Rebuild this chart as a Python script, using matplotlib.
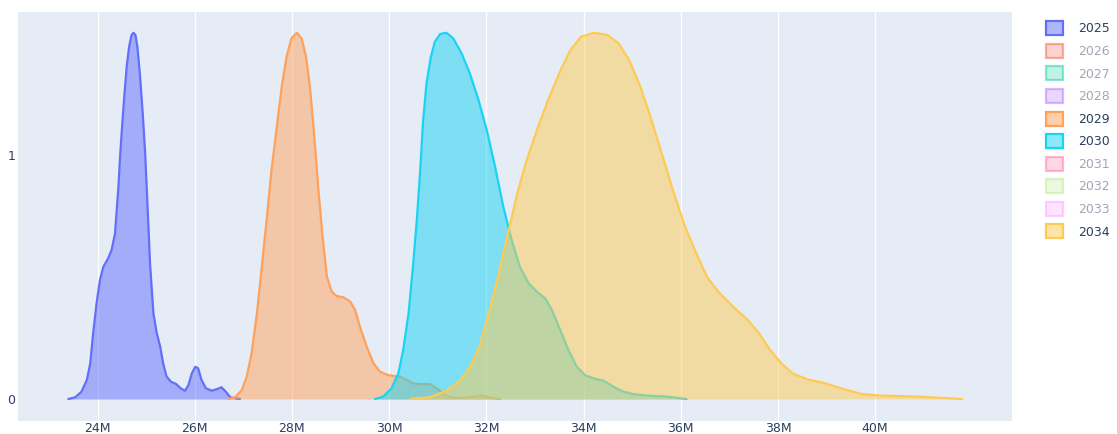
import matplotlib.pyplot as plt
from matplotlib.patches import Patch
from matplotlib.colors import to_rgb

# densidade (altura do violino) por valor em milhões
x_2025 = [23.40, 23.54, 23.67, 23.78, 23.85, 23.91, 23.98, 24.05, 24.12, 24.22, 24.29, 24.36, 24.39,
          24.43, 24.46, 24.50, 24.55, 24.60, 24.65, 24.70, 24.74, 24.78, 24.82, 24.87, 24.93, 24.98,
          25.03, 25.08, 25.15, 25.22, 25.29, 25.35, 25.42, 25.51, 25.62, 25.71, 25.80, 25.87, 25.94,
          26.01, 26.07, 26.14, 26.23, 26.35, 26.45, 26.55, 26.64, 26.73, 26.93]
y_2025 = [0.0, 0.007, 0.030, 0.078, 0.146, 0.269, 0.392, 0.488, 0.542, 0.577, 0.611, 0.679, 0.761,
          0.870, 0.980, 1.102, 1.239, 1.362, 1.444, 1.492, 1.501, 1.492, 1.444, 1.335, 1.171, 1.007,
          0.788, 0.556, 0.351, 0.269, 0.214, 0.146, 0.092, 0.071, 0.061, 0.044, 0.034, 0.057, 0.105,
          0.132, 0.126, 0.078, 0.044, 0.034, 0.040, 0.048, 0.030, 0.007, 0.0]

x_2029 = [26.69, 26.83, 26.97, 27.07, 27.17, 27.28, 27.38, 27.48, 27.58, 27.69, 27.79, 27.89, 27.99,
          28.10, 28.20, 28.29, 28.37, 28.45, 28.54, 28.63, 28.72, 28.82, 28.92, 29.06, 29.20, 29.30,
          29.40, 29.54, 29.68, 29.81, 29.98, 30.16, 30.22, 30.36, 30.50, 30.67, 30.84, 30.98, 31.15,
          31.32, 31.60, 31.80, 31.91, 32.04, 32.28]
y_2029 = [0.0, 0.007, 0.037, 0.092, 0.187, 0.351, 0.542, 0.734, 0.939, 1.116, 1.280, 1.403, 1.478,
          1.501, 1.478, 1.403, 1.280, 1.102, 0.870, 0.665, 0.501, 0.440, 0.422, 0.417, 0.399, 0.365,
          0.296, 0.214, 0.146, 0.112, 0.098, 0.092, 0.092, 0.078, 0.064, 0.061, 0.061, 0.044, 0.016,
          0.005, 0.005, 0.012, 0.015, 0.007, 0.0]

x_2030 = [29.71, 29.88, 30.05, 30.19, 30.29, 30.40, 30.49, 30.57, 30.64, 30.70, 30.77, 30.86, 30.94,
          31.05, 31.18, 31.32, 31.49, 31.66, 31.84, 32.01, 32.18, 32.35, 32.52, 32.69, 32.87, 33.04,
          33.21, 33.35, 33.52, 33.69, 33.86, 34.03, 34.20, 34.41, 34.61, 34.82, 35.03, 35.30, 35.71,
          36.12]
y_2030 = [0.0, 0.010, 0.044, 0.105, 0.201, 0.351, 0.542, 0.734, 0.939, 1.143, 1.294, 1.403, 1.464,
          1.496, 1.501, 1.478, 1.417, 1.335, 1.225, 1.102, 0.952, 0.788, 0.652, 0.542, 0.474, 0.440,
          0.413, 0.365, 0.283, 0.201, 0.132, 0.098, 0.085, 0.075, 0.051, 0.030, 0.020, 0.014, 0.010,
          0.0]

x_2034 = [30.45, 30.83, 31.14, 31.44, 31.67, 31.86, 32.05, 32.24, 32.43, 32.62, 32.81, 33.04, 33.27,
          33.50, 33.73, 33.95, 34.22, 34.49, 34.72, 34.94, 35.17, 35.40, 35.63, 35.86, 36.09, 36.32,
          36.54, 36.77, 37.08, 37.38, 37.61, 37.84, 38.07, 38.30, 38.60, 38.98, 39.36, 39.74, 40.12,
          40.88, 41.79]
y_2034 = [0.0, 0.007, 0.030, 0.071, 0.132, 0.214, 0.351, 0.501, 0.665, 0.829, 0.966, 1.102, 1.225,
          1.335, 1.430, 1.485, 1.501, 1.492, 1.458, 1.389, 1.280, 1.143, 0.993, 0.843, 0.706, 0.597,
          0.501, 0.440, 0.378, 0.324, 0.269, 0.201, 0.146, 0.105, 0.081, 0.064, 0.040, 0.020, 0.014,
          0.010, 0.0]

anos = ['2025', '2026', '2027', '2028', '2029', '2030', '2031', '2032', '2033', '2034']
cores = ['#636efa', '#EF553B', '#00cc96', '#ab63fa', '#FFA15A',
         '#19d3f3', '#FF6692', '#B6E880', '#FF97FF', '#FECB52']
visiveis = {'2025': (x_2025, y_2025), '2029': (x_2029, y_2029),
            '2030': (x_2030, y_2030), '2034': (x_2034, y_2034)}

ticks = [24, 26, 28, 30, 32, 34, 36, 38, 40]

fig = plt.figure(figsize=(11.17, 4.34), dpi=100)
ax = fig.add_axes([0.0164, 0.0306, 0.8893, 0.9411])
ax.set_facecolor('#E5ECF6')

z = 2
for ano, cor in zip(anos, cores):
    if ano in visiveis:
        xs, ys = visiveis[ano]
        ax.fill_between(xs, 0, ys, color=cor, alpha=0.5, linewidth=0, zorder=z)
        ax.plot(xs, ys, color=cor, linewidth=1.6, solid_joinstyle='round',
                solid_capstyle='round', zorder=z + 1)
        z += 2

ax.set_xlim(22.37, 42.81)
ax.set_ylim(-0.089, 1.585)
ax.set_xticks(ticks)
ax.set_xticklabels([f'{t}M' for t in ticks])
ax.set_yticks([0, 1])
ax.set_yticklabels(['0', '1'])
ax.tick_params(axis='both', length=0, labelsize=9, labelcolor='#2a3f5f')
ax.tick_params(axis='x', pad=1)
ax.tick_params(axis='y', pad=2)
ax.grid(axis='x', color='white', linewidth=1)
ax.set_axisbelow(True)
for s in ax.spines.values():
    s.set_visible(False)

# legenda (anos ocultos mais claros)
handles = []
for ano, cor in zip(anos, cores):
    rgb = to_rgb(cor)
    if ano in visiveis:
        handles.append(Patch(facecolor=(*rgb, 0.5), edgecolor=(*rgb, 1.0), linewidth=1.6))
    else:
        handles.append(Patch(facecolor=(*rgb, 0.25), edgecolor=(*rgb, 0.45), linewidth=1.6))
leg = ax.legend(handles, anos, loc='upper left', bbox_to_anchor=(1.035, 0.978),
                frameon=False, fontsize=9, handlelength=1.35, handleheight=1.35,
                labelspacing=0.67, handletextpad=1.2, borderaxespad=0, borderpad=0)
for txt, ano in zip(leg.get_texts(), anos):
    txt.set_color('#2a3f5f' if ano in visiveis else '#a0a8b8')

plt.savefig('out.png', dpi=100)
